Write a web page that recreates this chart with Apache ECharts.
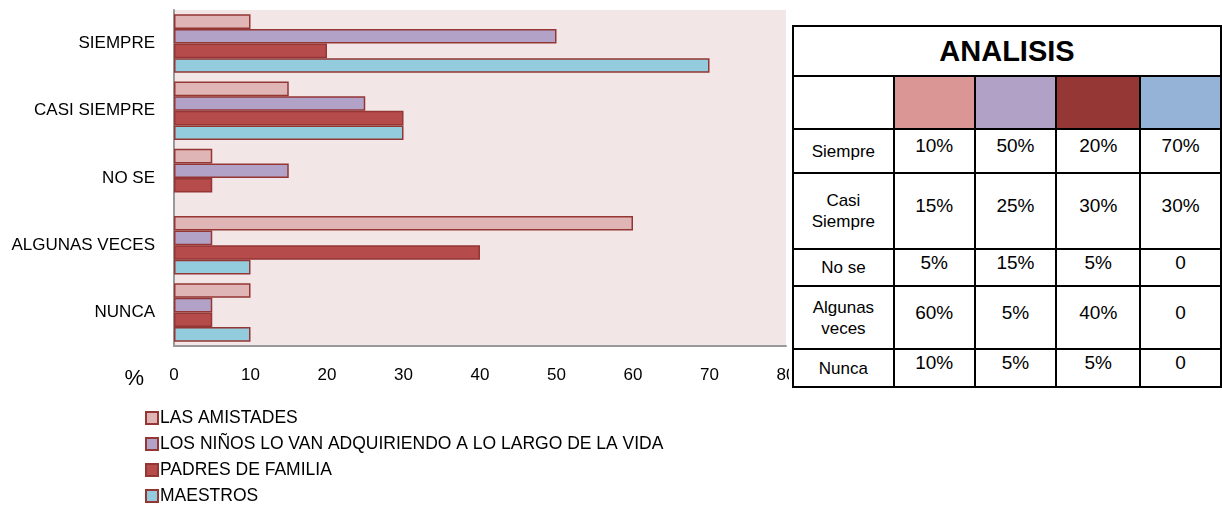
<!DOCTYPE html>
<html lang="es">
<head>
<meta charset="utf-8">
<title>Analisis</title>
<script src="https://cdn.jsdelivr.net/npm/echarts@6/dist/echarts.min.js"></script>
<style>
  body { margin:0; background:#fff; font-family:"Liberation Sans", Arial, sans-serif; }
  #container { position:absolute; left:0; top:0; width:1222px; height:506px; }
  #tabla-wrap { position:absolute; left:789px; top:0; width:433px; height:400px; background:#fff; }
  #tabla { position:absolute; left:3px; top:25px; border-collapse:collapse; table-layout:fixed; }
  #tabla td { border:2px solid #000; text-align:center; padding:0; font-size:19px; color:#000; }
  #tabla td.lbl { font-size:17px; line-height:21px; }
  #tabla td.val span { position:relative; top:-5px; }
  #tabla td.titulo { font-size:29px; font-weight:bold; }
</style>
</head>
<body>
<div id="container"></div>
<div id="tabla-wrap"><table id="tabla"></table></div>
<script>
// datos
var categorias = ['SIEMPRE', 'CASI SIEMPRE', 'NO SE', 'ALGUNAS VECES', 'NUNCA'];
var amistades = [10, 15, 5, 60, 10];
var ninos = [50, 25, 15, 5, 5];
var padres = [20, 30, 5, 40, 5];
var maestros = [70, 30, 0, 10, 10];

// tabla
var filasTabla = ['Siempre', 'Casi<br>Siempre', 'No se', 'Algunas<br>veces', 'Nunca'];
var valoresTabla = [
  ['10%', '50%', '20%', '70%'],
  ['15%', '25%', '30%', '30%'],
  ['5%', '15%', '5%', '0'],
  ['60%', '5%', '40%', '0'],
  ['10%', '5%', '5%', '0']
];
var coloresTabla = ['#D99694', '#B2A1C7', '#953735', '#95B3D7'];
var altoFilas = [44, 76, 37, 63, 38];

var html = '<colgroup><col style="width:101px"><col style="width:81px"><col style="width:82px"><col style="width:84px"><col style="width:81px"></colgroup>';
html += '<tr style="height:50px"><td class="titulo" colspan="5">ANALISIS</td></tr>';
html += '<tr style="height:53px"><td></td>';
coloresTabla.forEach(function(c){ html += '<td style="background:' + c + '"></td>'; });
html += '</tr>';
filasTabla.forEach(function(f, i){
  html += '<tr style="height:' + altoFilas[i] + 'px"><td class="lbl">' + f + '</td>';
  valoresTabla[i].forEach(function(v){ html += '<td class="val"><span>' + v + '</span></td>'; });
  html += '</tr>';
});
document.getElementById('tabla').innerHTML = html;

// los ceros no se ven en el original
function sinCeros(arr) {
  return arr.map(function(v){ return v === 0 ? { value: 0, itemStyle: { borderWidth: 0 } } : v; });
}

// grafico
var myChart = echarts.init(document.getElementById('container'));
var borde = '#943634';
var option = {
  animation: false,
  textStyle: { fontFamily: 'Liberation Sans, Arial, sans-serif' },
  grid: {
    left: 174, right: 436, top: 10, bottom: 160,
    show: true, backgroundColor: '#F2E6E6', borderWidth: 0
  },
  legend: {
    orient: 'vertical', left: 145, top: 409, height: 97, padding: 0,
    itemWidth: 12, itemHeight: 12, itemGap: 8,
    icon: 'rect',
    textStyle: { fontSize: 17.5, lineHeight: 18, color: '#000', padding: [0, 0, 0, -3] },
    data: ['LAS AMISTADES', 'LOS NIÑOS LO VAN ADQUIRIENDO A LO LARGO DE LA VIDA', 'PADRES DE FAMILIA', 'MAESTROS']
  },
  xAxis: {
    type: 'value', min: 0, max: 80, interval: 10,
    axisLine: { show: true, lineStyle: { color: '#999', width: 2 } },
    axisTick: { show: false },
    splitLine: { show: false },
    axisLabel: { fontSize: 17, color: '#000', margin: 21 },
    name: '%', nameLocation: 'start', nameGap: 30,
    nameTextStyle: { fontSize: 22, color: '#000', verticalAlign: 'top', padding: [22, 0, 0, 0] }
  },
  yAxis: {
    type: 'category', data: categorias, inverse: true,
    axisLine: { show: true, lineStyle: { color: '#999', width: 2 } },
    axisTick: { show: false },
    axisLabel: { fontSize: 17, color: '#000', margin: 19 }
  },
  series: [
    { name: 'LAS AMISTADES', type: 'bar', data: sinCeros(amistades), barGap: '0%', barCategoryGap: '13%',
      itemStyle: { color: '#E0B5B5', borderColor: borde, borderWidth: 1.5 } },
    { name: 'LOS NIÑOS LO VAN ADQUIRIENDO A LO LARGO DE LA VIDA', type: 'bar', data: sinCeros(ninos), barGap: '0%', barCategoryGap: '13%',
      itemStyle: { color: '#B3A2C8', borderColor: borde, borderWidth: 1.5 } },
    { name: 'PADRES DE FAMILIA', type: 'bar', data: sinCeros(padres), barGap: '0%', barCategoryGap: '13%',
      itemStyle: { color: '#B54B4B', borderColor: borde, borderWidth: 1.5 } },
    { name: 'MAESTROS', type: 'bar', data: sinCeros(maestros), barGap: '0%', barCategoryGap: '13%',
      itemStyle: { color: '#93CDDD', borderColor: borde, borderWidth: 1.5 } }
  ]
};
myChart.setOption(option);
</script>
</body>
</html>
